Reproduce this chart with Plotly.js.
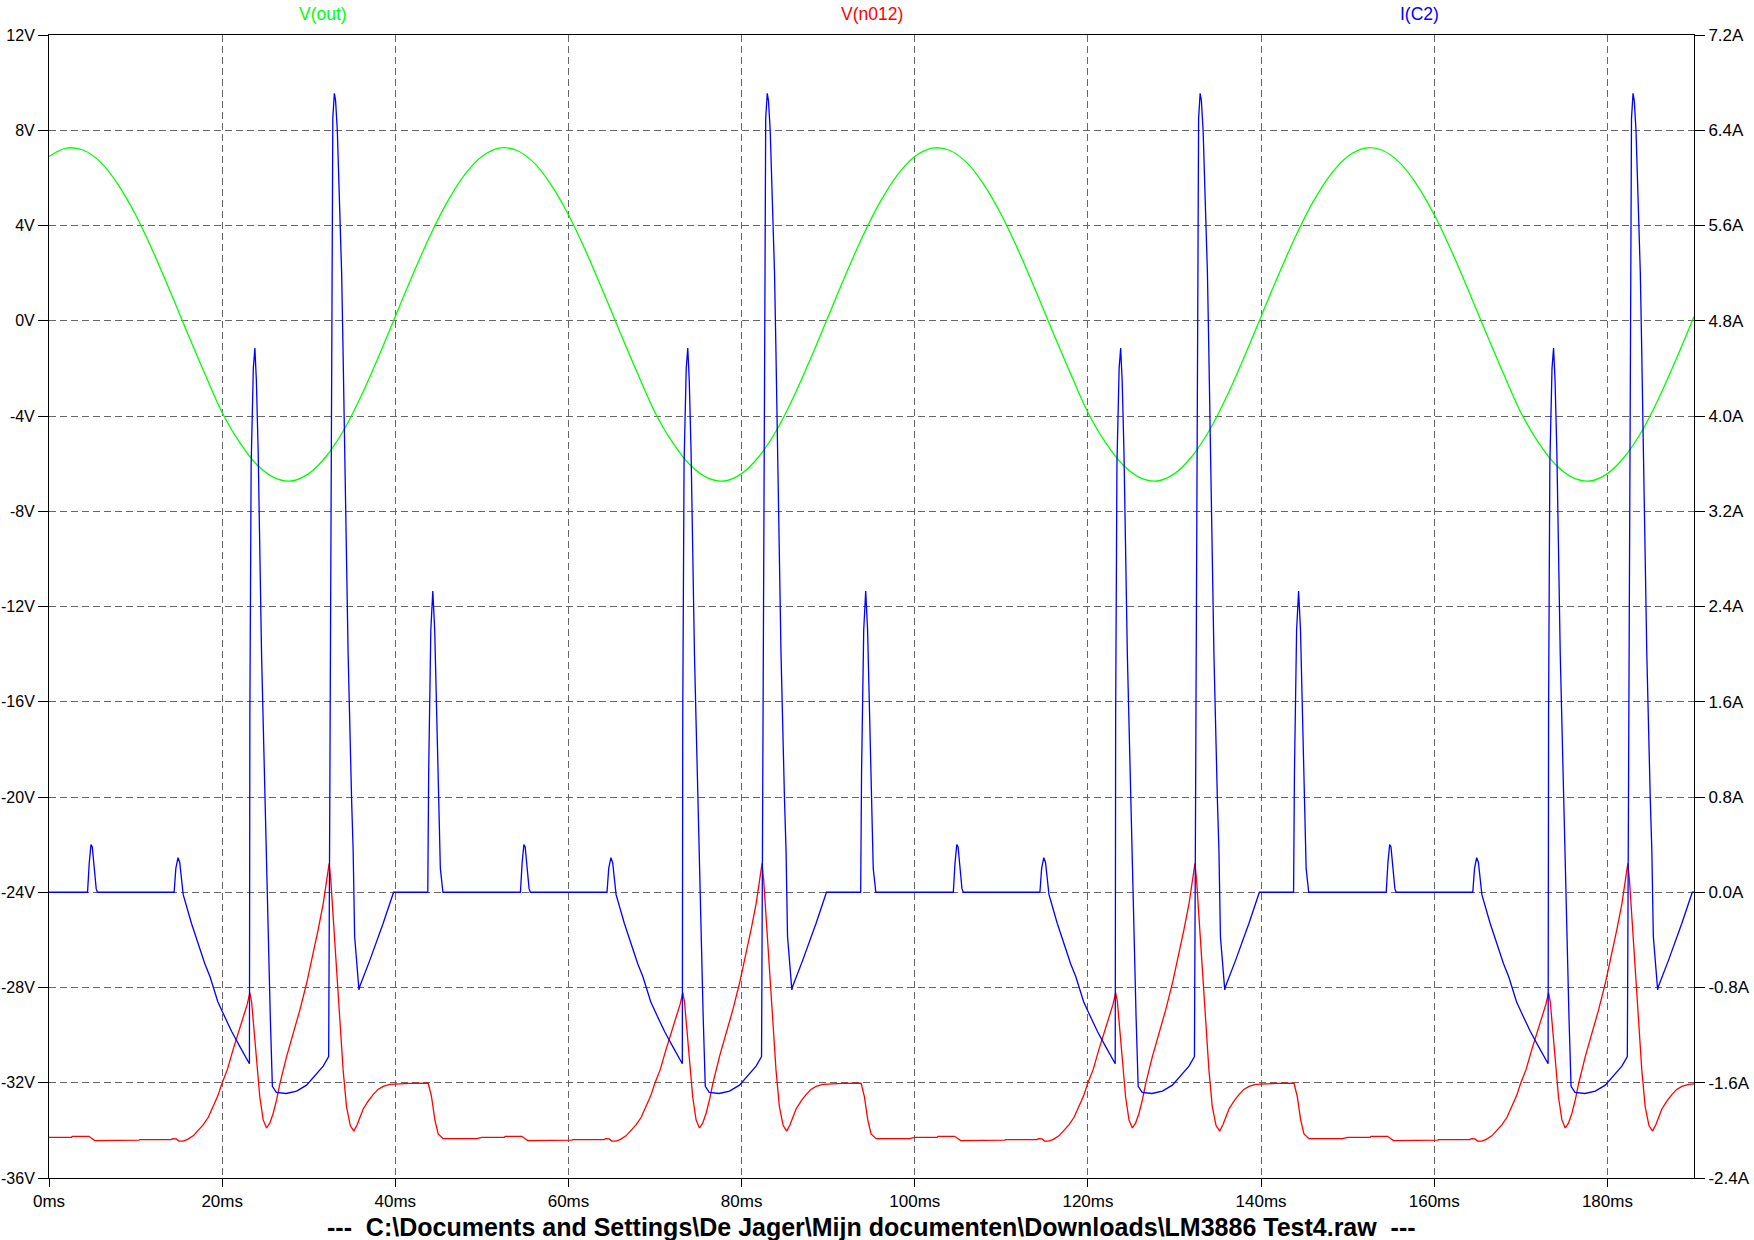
<!DOCTYPE html>
<html>
<head>
<meta charset="utf-8">
<script src="https://cdn.plot.ly/plotly-3.0.1.min.js"></script>
<style>html,body{margin:0;padding:0;background:#fff;}#chart{width:1754px;height:1240px;}</style>
</head>
<body>
<div id="chart"></div>
<script>
// ---------- data ----------
const traceNames = ["V(out)", "V(n012)", "I(C2)"];
const fileTitle = "---\u00a0\u00a0C:\\Documents and Settings\\De Jager\\Mijn documenten\\Downloads\\LM3886 Test4.raw\u00a0\u00a0---";

// V(out) [V] vs time [ms]
const timeOut = [
  0,2,4,6,8,10,12,14,16,18,20,22,24,26,28,30,32,34,36,38,40,42,44,46,48,
  50,52,54,56,58,60,62,64,66,68,70,72,74,76,78,80,82,84,86,88,90,92,94,96,98,
  100,102,104,106,108,110,112,114,116,118,120,122,124,126,128,130,132,134,136,138,140,142,144,146,148,
  150,152,154,156,158,160,162,164,166,168,170,172,174,176,178,180,182,184,186,188,190
];
const vOut = [
  6.90,7.25,7.16,6.64,5.71,4.45,2.92,1.23,-0.52,-2.23,-3.85,-5.10,-6.04,-6.59,-6.73,-6.42,-5.70,-4.62,-3.20,-1.56,0.18,1.92,3.56,4.99,6.13,
  6.90,7.25,7.16,6.64,5.71,4.45,2.92,1.23,-0.52,-2.23,-3.85,-5.10,-6.04,-6.59,-6.73,-6.42,-5.70,-4.62,-3.20,-1.56,0.18,1.92,3.56,4.99,6.13,
  6.90,7.25,7.16,6.64,5.71,4.45,2.92,1.23,-0.52,-2.23,-3.85,-5.10,-6.04,-6.59,-6.73,-6.42,-5.70,-4.62,-3.20,-1.56,0.18,1.92,3.56,4.99,6.13,
  6.90,7.25,7.16,6.64,5.71,4.45,2.92,1.23,-0.52,-2.23,-3.85,-5.10,-6.04,-6.59,-6.73,-6.42,-5.70,-4.62,-3.20,-1.56,0.18
];

// V(n012) [V] vs time [ms]
const timeN012 = [
  0,2.6,2.7,4.6,5.0,5.3,10.4,10.5,14.1,14.3,14.7,15.0,15.5,16.0,16.65,17.4,17.8,18.4,18.96,19.5,20.0,20.6,21.27,21.8,22.43,22.9,23.2,23.4,23.58,23.97,24.35,24.74,25.13,25.5,25.9,26.3,26.67,27.44,28.2,28.98,29.8,30.52,31.1,31.68,32.36,32.55,32.82,33.2,33.59,33.97,34.36,34.8,35.21,35.6,36.29,36.9,37.44,38.0,38.6,39.37,41.68,43.8,44.18,44.57,44.95,45.53,49.4,
  50,52.6,52.7,54.6,55.0,55.3,60.4,60.5,64.1,64.3,64.7,65.0,65.5,66.0,66.65,67.4,67.8,68.4,68.96,69.5,70.0,70.6,71.27,71.8,72.43,72.9,73.2,73.4,73.58,73.97,74.35,74.74,75.13,75.5,75.9,76.3,76.67,77.44,78.2,78.98,79.8,80.52,81.1,81.68,82.36,82.55,82.82,83.2,83.59,83.97,84.36,84.8,85.21,85.6,86.29,86.9,87.44,88.0,88.6,89.37,91.68,93.8,94.18,94.57,94.95,95.53,99.4,
  100,102.6,102.7,104.6,105.0,105.3,110.4,110.5,114.1,114.3,114.7,115.0,115.5,116.0,116.65,117.4,117.8,118.4,118.96,119.5,120.0,120.6,121.27,121.8,122.43,122.9,123.2,123.4,123.58,123.97,124.35,124.74,125.13,125.5,125.9,126.3,126.67,127.44,128.2,128.98,129.8,130.52,131.1,131.68,132.36,132.55,132.82,133.2,133.59,133.97,134.36,134.8,135.21,135.6,136.29,136.9,137.44,138.0,138.6,139.37,141.68,143.8,144.18,144.57,144.95,145.53,149.4,
  150,152.6,152.7,154.6,155.0,155.3,160.4,160.5,164.1,164.3,164.7,165.0,165.5,166.0,166.65,167.4,167.8,168.4,168.96,169.5,170.0,170.6,171.27,171.8,172.43,172.9,173.2,173.4,173.58,173.97,174.35,174.74,175.13,175.5,175.9,176.3,176.67,177.44,178.2,178.98,179.8,180.52,181.1,181.68,182.36,182.55,182.82,183.2,183.59,183.97,184.36,184.8,185.21,185.6,186.29,186.9,187.44,188.0,188.6,189.37,190
];
const vN012 = [
  -34.29,-34.29,-34.25,-34.25,-34.35,-34.43,-34.41,-34.39,-34.39,-34.35,-34.36,-34.45,-34.45,-34.38,-34.23,-33.92,-33.77,-33.45,-33.0,-32.55,-32.0,-31.45,-30.6,-30.0,-29.3,-28.7,-28.22,-28.6,-29.36,-31.0,-32.6,-33.56,-33.9,-33.7,-33.28,-32.7,-32.04,-30.9,-29.95,-28.94,-27.75,-26.57,-25.55,-24.47,-22.79,-23.5,-25.03,-26.85,-29.08,-31.46,-33.0,-33.8,-34.03,-33.75,-33.1,-32.75,-32.5,-32.28,-32.15,-32.07,-32.03,-32.02,-32.58,-33.56,-34.15,-34.35,-34.35,
  -34.29,-34.29,-34.25,-34.25,-34.35,-34.43,-34.41,-34.39,-34.39,-34.35,-34.36,-34.45,-34.45,-34.38,-34.23,-33.92,-33.77,-33.45,-33.0,-32.55,-32.0,-31.45,-30.6,-30.0,-29.3,-28.7,-28.22,-28.6,-29.36,-31.0,-32.6,-33.56,-33.9,-33.7,-33.28,-32.7,-32.04,-30.9,-29.95,-28.94,-27.75,-26.57,-25.55,-24.47,-22.79,-23.5,-25.03,-26.85,-29.08,-31.46,-33.0,-33.8,-34.03,-33.75,-33.1,-32.75,-32.5,-32.28,-32.15,-32.07,-32.03,-32.02,-32.58,-33.56,-34.15,-34.35,-34.35,
  -34.29,-34.29,-34.25,-34.25,-34.35,-34.43,-34.41,-34.39,-34.39,-34.35,-34.36,-34.45,-34.45,-34.38,-34.23,-33.92,-33.77,-33.45,-33.0,-32.55,-32.0,-31.45,-30.6,-30.0,-29.3,-28.7,-28.22,-28.6,-29.36,-31.0,-32.6,-33.56,-33.9,-33.7,-33.28,-32.7,-32.04,-30.9,-29.95,-28.94,-27.75,-26.57,-25.55,-24.47,-22.79,-23.5,-25.03,-26.85,-29.08,-31.46,-33.0,-33.8,-34.03,-33.75,-33.1,-32.75,-32.5,-32.28,-32.15,-32.07,-32.03,-32.02,-32.58,-33.56,-34.15,-34.35,-34.35,
  -34.29,-34.29,-34.25,-34.25,-34.35,-34.43,-34.41,-34.39,-34.39,-34.35,-34.36,-34.45,-34.45,-34.38,-34.23,-33.92,-33.77,-33.45,-33.0,-32.55,-32.0,-31.45,-30.6,-30.0,-29.3,-28.7,-28.22,-28.6,-29.36,-31.0,-32.6,-33.56,-33.9,-33.7,-33.28,-32.7,-32.04,-30.9,-29.95,-28.94,-27.75,-26.57,-25.55,-24.47,-22.79,-23.5,-25.03,-26.85,-29.08,-31.46,-33.0,-33.8,-34.03,-33.75,-33.1,-32.75,-32.5,-32.28,-32.15,-32.07,-32.05
];

// I(C2) [A] vs time [ms]
const timeC2 = [
  0,4.45,4.65,4.85,5.0,5.2,5.45,5.6,14.45,14.65,14.9,15.1,15.3,15.5,16.45,17.4,18.0,18.6,19.5,20.0,21.1,22.0,23.0,23.15,23.2,23.35,23.6,23.78,23.95,24.16,24.55,24.95,25.13,25.3,25.56,25.8,26.26,27.4,28.6,29.75,30.9,31.67,32.3,32.45,32.6,32.67,32.78,32.96,33.1,33.3,33.55,33.8,33.95,34.17,34.55,34.95,35.13,35.3,35.56,35.8,35.9,37.06,38.6,39.8,43.75,43.85,44.1,44.33,44.55,44.9,45.2,45.5,
  50,54.45,54.65,54.85,55.0,55.2,55.45,55.6,64.45,64.65,64.9,65.1,65.3,65.5,66.45,67.4,68.0,68.6,69.5,70.0,71.1,72.0,73.0,73.15,73.2,73.35,73.6,73.78,73.95,74.16,74.55,74.95,75.13,75.3,75.56,75.8,76.26,77.4,78.6,79.75,80.9,81.67,82.3,82.45,82.6,82.67,82.78,82.96,83.1,83.3,83.55,83.8,83.95,84.17,84.55,84.95,85.13,85.3,85.56,85.8,85.9,87.06,88.6,89.8,93.75,93.85,94.1,94.33,94.55,94.9,95.2,95.5,
  100,104.45,104.65,104.85,105.0,105.2,105.45,105.6,114.45,114.65,114.9,115.1,115.3,115.5,116.45,117.4,118.0,118.6,119.5,120.0,121.1,122.0,123.0,123.15,123.2,123.35,123.6,123.78,123.95,124.16,124.55,124.95,125.13,125.3,125.56,125.8,126.26,127.4,128.6,129.75,130.9,131.67,132.3,132.45,132.6,132.67,132.78,132.96,133.1,133.3,133.55,133.8,133.95,134.17,134.55,134.95,135.13,135.3,135.56,135.8,135.9,137.06,138.6,139.8,143.75,143.85,144.1,144.33,144.55,144.9,145.2,145.5,
  150,154.45,154.65,154.85,155.0,155.2,155.45,155.6,164.45,164.65,164.9,165.1,165.3,165.5,166.45,167.4,168.0,168.6,169.5,170.0,171.1,172.0,173.0,173.15,173.2,173.35,173.6,173.78,173.95,174.16,174.55,174.95,175.13,175.3,175.56,175.8,176.26,177.4,178.6,179.75,180.9,181.67,182.3,182.45,182.6,182.67,182.78,182.96,183.1,183.3,183.55,183.8,183.95,184.17,184.55,184.95,185.13,185.3,185.56,185.8,185.9,187.06,188.6,189.8,190
];
const iC2 = [
  0,0,0.25,0.40,0.38,0.22,0.03,0,0,0.2,0.29,0.25,0.08,-0.02,-0.26,-0.47,-0.60,-0.71,-0.92,-1.0,-1.17,-1.29,-1.42,-1.44,1.5,3.6,4.4,4.57,4.3,3.7,2.0,0.78,0.35,-0.43,-1.05,-1.63,-1.68,-1.69,-1.67,-1.62,-1.52,-1.46,-1.38,1.0,3.7,5.8,6.5,6.71,6.65,6.4,5.85,5.2,4.6,3.7,2.0,0.78,0.35,-0.37,-0.6,-0.82,-0.79,-0.57,-0.26,0,0,1.0,2.2,2.53,2.2,1.0,0.2,0,
  0,0,0.25,0.40,0.38,0.22,0.03,0,0,0.2,0.29,0.25,0.08,-0.02,-0.26,-0.47,-0.60,-0.71,-0.92,-1.0,-1.17,-1.29,-1.42,-1.44,1.5,3.6,4.4,4.57,4.3,3.7,2.0,0.78,0.35,-0.43,-1.05,-1.63,-1.68,-1.69,-1.67,-1.62,-1.52,-1.46,-1.38,1.0,3.7,5.8,6.5,6.71,6.65,6.4,5.85,5.2,4.6,3.7,2.0,0.78,0.35,-0.37,-0.6,-0.82,-0.79,-0.57,-0.26,0,0,1.0,2.2,2.53,2.2,1.0,0.2,0,
  0,0,0.25,0.40,0.38,0.22,0.03,0,0,0.2,0.29,0.25,0.08,-0.02,-0.26,-0.47,-0.60,-0.71,-0.92,-1.0,-1.17,-1.29,-1.42,-1.44,1.5,3.6,4.4,4.57,4.3,3.7,2.0,0.78,0.35,-0.43,-1.05,-1.63,-1.68,-1.69,-1.67,-1.62,-1.52,-1.46,-1.38,1.0,3.7,5.8,6.5,6.71,6.65,6.4,5.85,5.2,4.6,3.7,2.0,0.78,0.35,-0.37,-0.6,-0.82,-0.79,-0.57,-0.26,0,0,1.0,2.2,2.53,2.2,1.0,0.2,0,
  0,0,0.25,0.40,0.38,0.22,0.03,0,0,0.2,0.29,0.25,0.08,-0.02,-0.26,-0.47,-0.60,-0.71,-0.92,-1.0,-1.17,-1.29,-1.42,-1.44,1.5,3.6,4.4,4.57,4.3,3.7,2.0,0.78,0.35,-0.43,-1.05,-1.63,-1.68,-1.69,-1.67,-1.62,-1.52,-1.46,-1.38,1.0,3.7,5.8,6.5,6.71,6.65,6.4,5.85,5.2,4.6,3.7,2.0,0.78,0.35,-0.37,-0.6,-0.82,-0.79,-0.57,-0.26,0,0
];

// axis ticks
const xTickVals = [0,20,40,60,80,100,120,140,160,180];
const xTickText = ["0ms","20ms","40ms","60ms","80ms","100ms","120ms","140ms","160ms","180ms"];
const vTickVals = [12,8,4,0,-4,-8,-12,-16,-20,-24,-28,-32,-36];
const vTickText = ["12V","8V","4V","0V","-4V","-8V","-12V","-16V","-20V","-24V","-28V","-32V","-36V"];
const aTickVals = [7.2,6.4,5.6,4.8,4.0,3.2,2.4,1.6,0.8,0.0,-0.8,-1.6,-2.4];
const aTickText = ["7.2A","6.4A","5.6A","4.8A","4.0A","3.2A","2.4A","1.6A","0.8A","0.0A","-0.8A","-1.6A","-2.4A"];

// ---------- chart ----------
const colOut = "#00ff00", colN012 = "#ff0000", colC2 = "#0000ff";
const FONT = "Liberation Sans, Arial, sans-serif";
const TICKSIZE = 16;

const traces = [
  {x: timeOut, y: vOut, type: "scatter", mode: "lines", name: traceNames[0],
   line: {color: colOut, width: 1.3, shape: "spline", smoothing: 1}, yaxis: "y"},
  {x: timeN012, y: vN012, type: "scatter", mode: "lines", name: traceNames[1],
   line: {color: colN012, width: 1.3}, yaxis: "y"},
  {x: timeC2, y: iC2, type: "scatter", mode: "lines", name: traceNames[2],
   line: {color: colC2, width: 1.3}, yaxis: "y2"}
];

const gridStyle = {showgrid: true, gridcolor: "#666666", gridwidth: 1, griddash: "7px,4px"};

const layout = {
  width: 1754, height: 1240,
  margin: {l: 49, r: 60, t: 35, b: 62, pad: 0},
  paper_bgcolor: "#ffffff", plot_bgcolor: "#ffffff",
  showlegend: false,
  font: {family: FONT, size: TICKSIZE, color: "#000000"},
  xaxis: Object.assign({
    range: [0, 190], tickmode: "array", tickvals: xTickVals, ticktext: xTickText,
    showline: true, mirror: true, linecolor: "#000000", linewidth: 1,
    ticks: "outside", ticklen: 8, tickcolor: "#000000", tickwidth: 1,
    zeroline: false, tickfont: {family: FONT, size: 17, color: "#000000"}
  }, gridStyle),
  yaxis: Object.assign({
    range: [-36, 12], tickmode: "array", tickvals: vTickVals, ticktext: vTickText,
    showline: true, mirror: true, linecolor: "#000000", linewidth: 1,
    ticks: "outside", ticklen: 10, tickcolor: "#000000", tickwidth: 1,
    zeroline: false, tickfont: {family: FONT, size: TICKSIZE, color: "#000000"}
  }, gridStyle),
  yaxis2: {
    range: [-2.4, 7.2], overlaying: "y", side: "right",
    tickmode: "array", tickvals: aTickVals, ticktext: aTickText,
    showgrid: false, showline: true, linecolor: "#000000", linewidth: 1,
    ticks: "outside", ticklen: 10, tickcolor: "#000000", tickwidth: 1,
    zeroline: false, tickfont: {family: FONT, size: 17, color: "#000000"}
  },
  annotations: [
    {text: traceNames[0], xref: "paper", yref: "paper", x: 1/6, y: 1, yshift: 21,
     xanchor: "center", yanchor: "middle", showarrow: false,
     font: {family: FONT, size: 17.5, color: colOut}},
    {text: traceNames[1], xref: "paper", yref: "paper", x: 0.5, y: 1, yshift: 21,
     xanchor: "center", yanchor: "middle", showarrow: false,
     font: {family: FONT, size: 17.5, color: colN012}},
    {text: traceNames[2], xref: "paper", yref: "paper", x: 5/6, y: 1, yshift: 21,
     xanchor: "center", yanchor: "middle", showarrow: false,
     font: {family: FONT, size: 17.5, color: colC2}},
    {text: "<b>" + fileTitle + "</b>", xref: "paper", yref: "paper", x: 0.5, y: 0, yshift: -49,
     xanchor: "center", yanchor: "middle", showarrow: false,
     font: {family: FONT, size: 25, color: "#000000"}}
  ]
};

Plotly.newPlot("chart", traces, layout, {staticPlot: true, displayModeBar: false});
</script>
</body>
</html>
